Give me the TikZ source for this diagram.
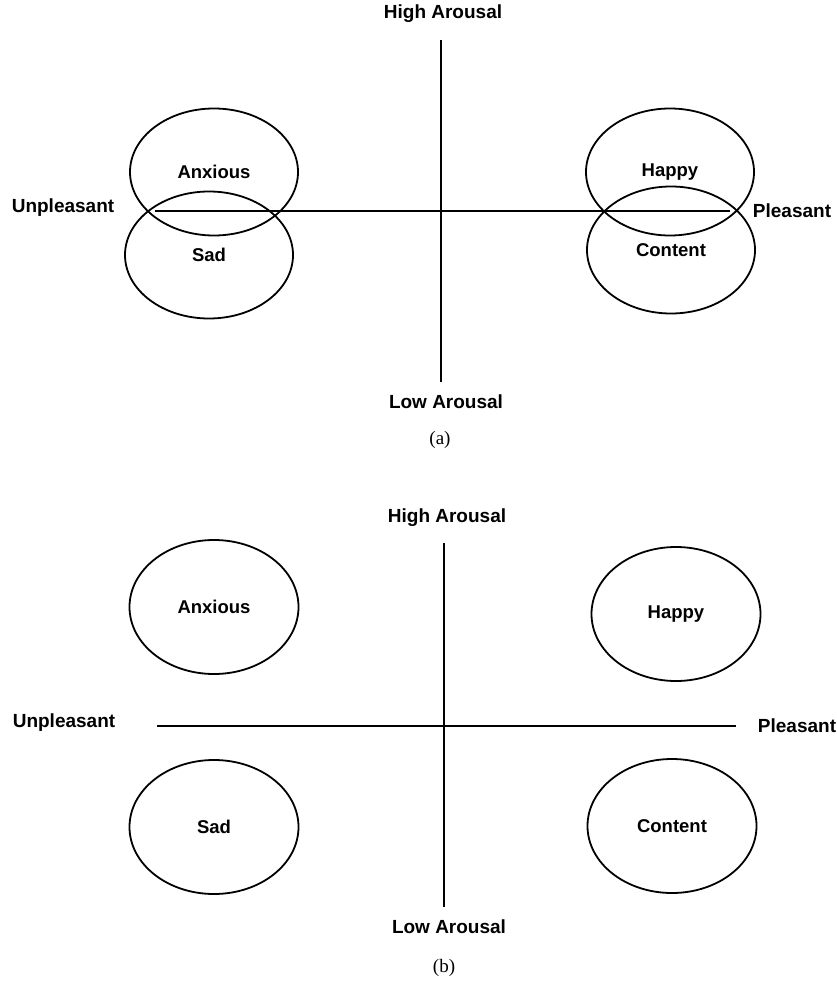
\documentclass[tikz,border=0pt]{standalone}
\usepackage{fontspec}
\setmainfont{Liberation Serif}
\newfontfamily\labelfont{Liberation Sans}
\usetikzlibrary{shapes.geometric}
\tikzset{
	emo/.style={draw, ellipse, line width=1.8pt, inner sep=0pt, minimum width=168pt, minimum height=127pt, font=\labelfont\bfseries\fontsize{18.5}{20}\selectfont},
	axlabel/.style={inner sep=0pt, font=\labelfont\bfseries\fontsize{19}{21}\selectfont},
	axisline/.style={line width=1.8pt},
	panelcap/.style={inner sep=0pt, font=\fontsize{19}{21}\selectfont}
}

\begin{document}
\begin{tikzpicture}[x=1pt, y=-1pt]
	\useasboundingbox (0,0) rectangle (836,981);
	% (a)
	\node[axlabel] (hiA) at (443,14) {High Arousal};
	\node[axlabel] (loA) at (446,402) {Low Arousal};
	\node[axlabel] (unA) at (63,208) {Unpleasant};
	\node[axlabel] (plA) at (792,211) {Pleasant};
	\coordinate (topA) at (441,40);
	\coordinate (botA) at (441,382);
	\coordinate (leftA) at (155,211);
	\coordinate (rightA) at (730,211);
	\draw[axisline] (topA) -- (botA);
	\draw[axisline] (leftA) -- (rightA);
	\node[emo] (anxA) at (214,172) {Anxious};
	\node[emo] (sadA) at (209,255) {Sad};
	\node[emo] (hapA) at (670,172) {Happy};
	\node[emo] (conA) at (671,250) {Content};
	\node[panelcap] (capA) at (440,440) {(a)};
	% (b)
	\node[axlabel] (hiB) at (447,518) {High Arousal};
	\node[axlabel] (loB) at (449,927) {Low Arousal};
	\node[axlabel] (unB) at (64,723) {Unpleasant};
	\node[axlabel] (plB) at (797,726) {Pleasant};
	\coordinate (topB) at (444,543);
	\coordinate (botB) at (444,907);
	\coordinate (leftB) at (157,726);
	\coordinate (rightB) at (736,726);
	\draw[axisline] (topB) -- (botB);
	\draw[axisline] (leftB) -- (rightB);
	\node[emo, minimum width=169pt, minimum height=134pt] (anxB) at (214,607) {Anxious};
	\node[emo, minimum width=169pt, minimum height=134pt] (hapB) at (676,614) {Happy};
	\node[emo, minimum width=169pt, minimum height=134pt] (sadB) at (214,827) {Sad};
	\node[emo, minimum width=169pt, minimum height=134pt] (conB) at (672,826) {Content};
	\node[panelcap] (capB) at (444,968) {(b)};
\end{tikzpicture}
\end{document}
